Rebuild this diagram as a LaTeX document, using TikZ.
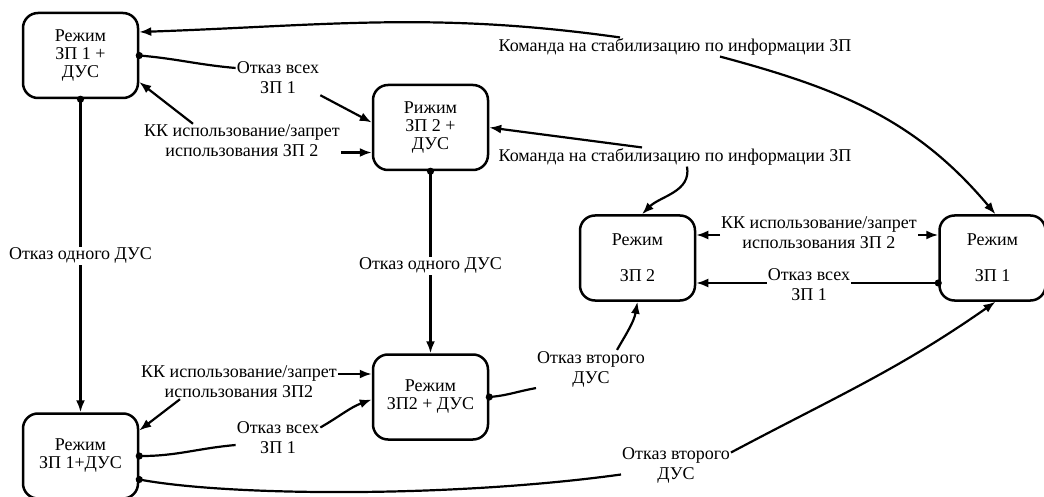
\documentclass[tikz,border=0pt]{standalone}
\usepackage{fontspec}
\setmainfont{Liberation Serif}
\usetikzlibrary{positioning, calc, arrows.meta}

\begin{document}
\begin{tikzpicture}[x=1pt, y=1pt, font=\fontsize{18}{18}\selectfont,
		mode/.style={rectangle, rounded corners=15pt, draw, line width=2.5pt, minimum width=115pt, minimum height=85pt, align=center, inner sep=2pt},
		lbl/.style={align=center, inner sep=1pt, font=\fontsize{18}{20}\selectfont},
		arr/.style={line width=2.2pt, -{Latex[length=12pt,width=9pt]}},
		dotln/.style={line width=2.2pt, {Circle[length=7pt]}-, shorten <=-3.5pt},
		dotarr/.style={line width=2.2pt, {Circle[length=7pt]}-{Latex[length=12pt,width=9pt]}, shorten <=-3.5pt}]
		\useasboundingbox (0,0) rectangle (1044,496);
		\node[mode] (A) at (80.5,440.5) {Режим\\ЗП 1 +\\ДУС};
		\node[mode] (F) [below=313pt of A] {Режим\\ЗП 1+ДУС};
		\node[mode] (B) at (430.5,368.5) {Рижим\\ЗП 2 +\\ДУС};
		\node[mode] (E) [below=182pt of B] {Режим\\ЗП2 + ДУС};
		\node[mode] (C) at (637.5,238) {Режим\\[18pt]ЗП 2};
		\node[mode, minimum width=106pt] (D) [right=242pt of C] {Режим\\[18pt]ЗП 1};
		\node[lbl] (cmdTop) at (675,449) {Команда на стабилизацию по информации ЗП};
		\node[lbl] (cmdMid) at (675,339) {Команда на стабилизацию по информации ЗП};
		\node[lbl] (lblAB) at (278,418) {Отказ всех\\ЗП 1};
		\node[lbl] (kkAB) at (242,355) {КК использование/запрет\\использования ЗП 2};
		\node[lbl] (kkEF) at (239,114) {КК использование/запрет\\использования ЗП2};
		\node[lbl] (lblFE) at (278,58.5) {Отказ всех\\ЗП 1};
		\node[lbl] (lblEC) at (591,127) {Отказ второго\\ДУС};
		\node[lbl] (lblFD) at (676,30.5) {Отказ второго\\ДУС};
		\node[lbl] (lblDC) at (809,211) {Отказ всех\\ЗП 1};
		\node[lbl] (kkCD) at (819,263) {КК использование/запрет\\использования ЗП 2};
		\draw[dotln] (A.east) to[out=-5,in=175] ([yshift=10pt]lblAB.west);
		\draw[arr] (lblAB.south east) -- ([yshift=5pt]B.west);
		\draw[arr] ([xshift=-49pt]kkAB.north) -- ([yshift=-26.5pt]A.east);
		\draw[arr] ([yshift=-25pt]B.west -| kkAB.east) -- ([yshift=-25pt]B.west);
		\draw[arr] ([xshift=-55pt]cmdTop.north) to[out=172,in=2] ([yshift=23.5pt]A.east);
		\draw[arr] ([xshift=45pt]cmdTop.south) to[out=-15,in=130] ([xshift=3pt]D.north);
		\draw[arr] ([xshift=-33pt]cmdMid.north) -- (B.east);
		\draw[arr] ([xshift=12pt]cmdMid.south) to[out=-80,in=45] ([xshift=4.5pt]C.north);
		\draw[dotarr] (A.south) -- node[lbl, fill=white] (dusA) {Отказ одного ДУС} (F.north);
		\draw[dotarr] (B.south) -- node[lbl, fill=white, pos=0.52] (dusB) {Отказ одного ДУС} (E.north);
		\draw[arr] ([yshift=23pt]E.west -| kkEF.east) -- ([yshift=23pt]E.west);
		\draw[arr] ([xshift=-59pt]kkEF.south) -- ([yshift=25.5pt]F.east);
		\draw[dotln] (F.east) to[out=0,in=185] ([yshift=-7.5pt]lblFE.west);
		\draw[arr] ([yshift=10pt]lblFE.east) to[out=30,in=200] ([yshift=-2.5pt]E.west);
		\draw[dotln] (E.east) to[out=5,in=190] (lblEC.south west);
		\draw[arr] ([xshift=26pt]lblEC.north) to[out=60,in=-100] (C.south);
		\draw[dotln] ([yshift=-23.5pt]F.east) .. controls (230,0) and (450,-2) .. ([yshift=-9pt]lblFD.west);
		\draw[arr] ([yshift=13pt]lblFD.east) to[out=28,in=-145] ([xshift=3pt]D.south);
		\draw[dotln] ([yshift=-25pt]D.west) -- ([yshift=-25pt]D.west -| lblDC.east);
		\draw[arr] ([yshift=-25pt]C.east -| lblDC.west) -- ([yshift=-25pt]C.east);
		\draw[arr] ([yshift=23pt]C.east -| kkCD.west) -- ([yshift=23pt]C.east);
		\draw[arr] ([yshift=23pt]D.west -| kkCD.east) -- ([yshift=23pt]D.west);
	\end{tikzpicture}
\end{document}
